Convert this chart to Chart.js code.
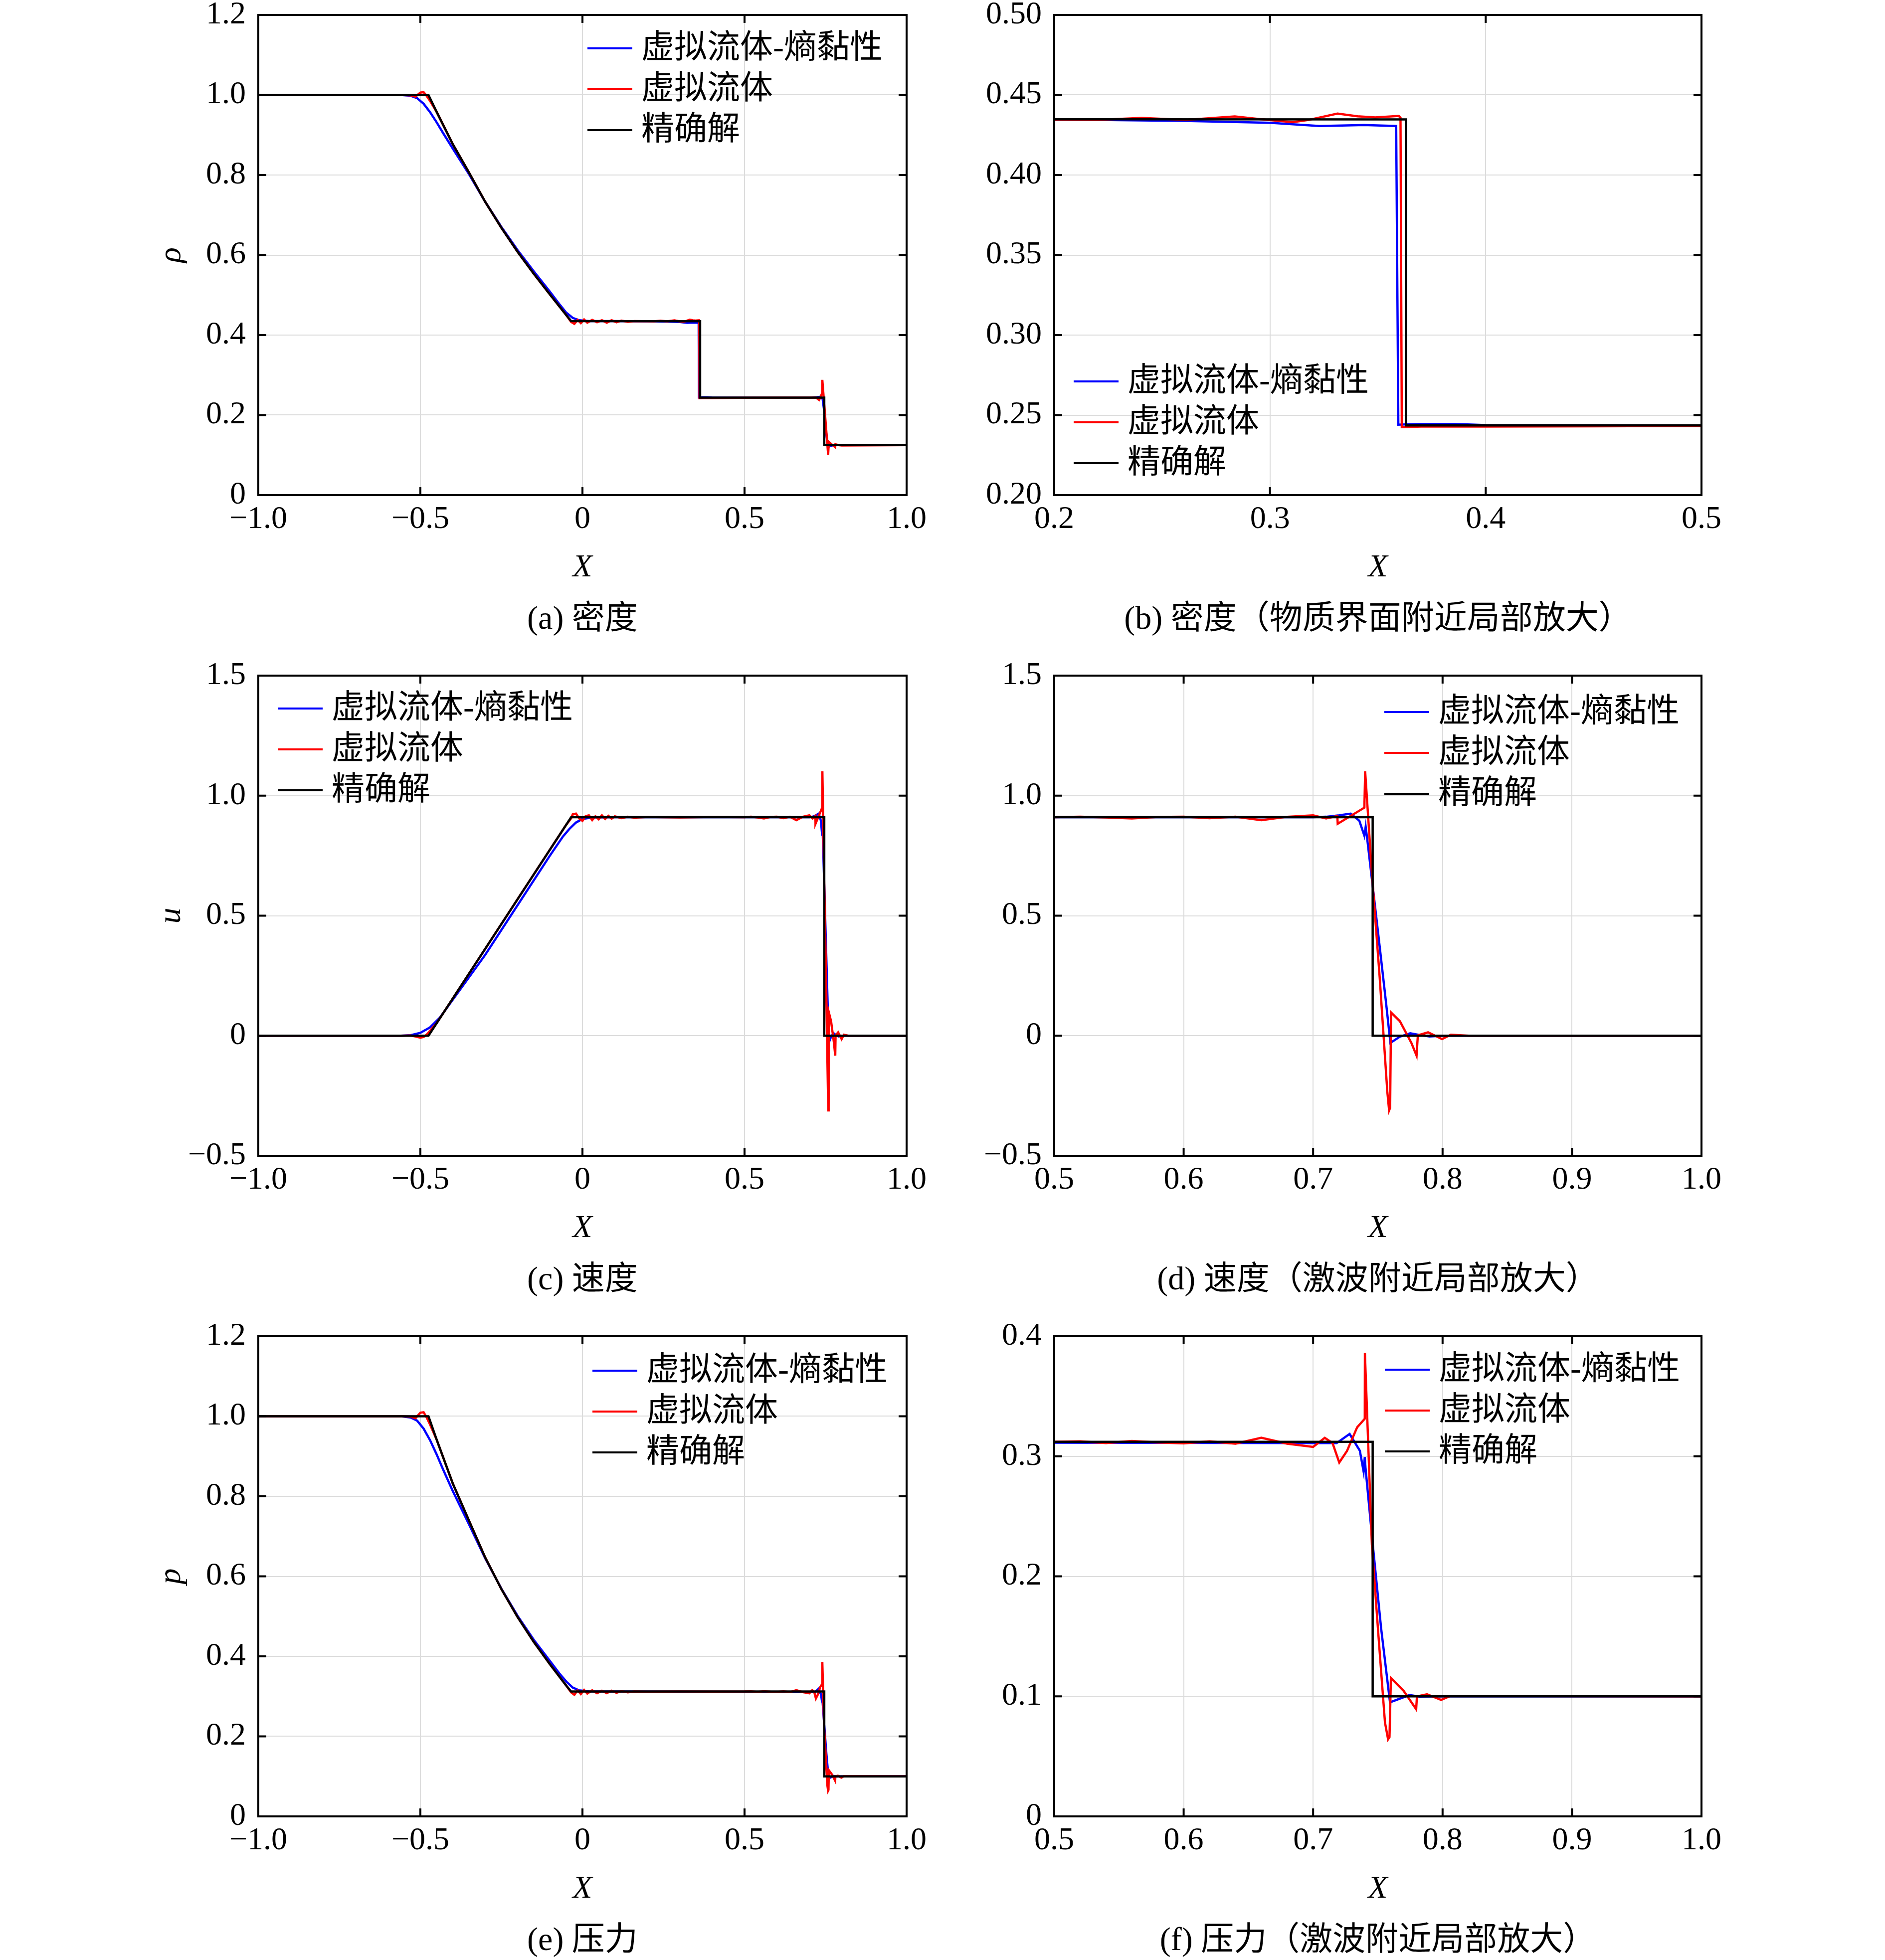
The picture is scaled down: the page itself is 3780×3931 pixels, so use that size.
<!DOCTYPE html>
<html>
<head>
<meta charset="utf-8">
<script src="https://cdn.jsdelivr.net/npm/chart.js@4.4.1/dist/chart.umd.min.js"></script>
<style>
  html, body { margin: 0; padding: 0; background: #fff; }
  body { width: 3780px; height: 3931px; position: relative; overflow: hidden; }
  canvas { position: absolute; }
  .cap { position: absolute; width: 1400px; text-align: center; color: #000; white-space: nowrap;
         font-family: "Liberation Serif", "Noto Sans CJK SC", serif; font-size: 66px; line-height: 66px; }
</style>
</head>
<body>
<script>
// ---- legend labels ----
const LABELS = ['虚拟流体-熵黏性', '虚拟流体', '精确解'];

// ---- density ----
const rhoExactX = [-1.0, -0.475, -0.45, -0.4, -0.35, -0.3, -0.25, -0.2, -0.15, -0.1, -0.05, -0.035, 0.363, 0.363, 0.746, 0.746, 1.0];
const rhoExact  = [1.0, 1.0, 0.958, 0.877, 0.806, 0.733, 0.668, 0.608, 0.553, 0.501, 0.450, 0.435, 0.4347, 0.2435, 0.2435, 0.125, 0.125];

const rhoBlueX = [-1.0, -0.56, -0.53, -0.51, -0.49, -0.47, -0.45, -0.43, -0.4, -0.35, -0.3, -0.25, -0.2, -0.15, -0.1, -0.07, -0.05, -0.03, -0.01, 0.02, 0.1, 0.22, 0.26, 0.3, 0.323, 0.3437, 0.3585, 0.3595, 0.37, 0.385, 0.4, 0.5, 0.6, 0.7, 0.725, 0.735, 0.741, 0.745, 0.75, 0.755, 0.76, 0.77, 0.78, 1.0];
const rhoBlue  = [1.0, 1.0, 0.998, 0.992, 0.978, 0.957, 0.932, 0.905, 0.866, 0.802, 0.733, 0.670, 0.612, 0.559, 0.508, 0.476, 0.456, 0.443, 0.437, 0.435, 0.4348, 0.4344, 0.4338, 0.4326, 0.4306, 0.4312, 0.4306, 0.244, 0.2445, 0.2445, 0.2438, 0.2435, 0.2435, 0.2435, 0.245, 0.246, 0.24, 0.215, 0.17, 0.135, 0.121, 0.124, 0.125, 0.125];

const rhoRedX = [-1.0, -0.56, -0.53, -0.515, -0.5, -0.49, -0.48, -0.47, -0.45, -0.4, -0.35, -0.3, -0.25, -0.2, -0.15, -0.1, -0.05, -0.035, -0.025, -0.015, -0.005, 0.005, 0.015, 0.03, 0.045, 0.06, 0.075, 0.09, 0.105, 0.12, 0.14, 0.16, 0.2, 0.22, 0.2405, 0.261, 0.2837, 0.296, 0.3106, 0.3178, 0.3313, 0.3406, 0.3488, 0.3597, 0.3605, 0.3611, 0.37, 0.4, 0.45, 0.5, 0.6, 0.7, 0.72, 0.73, 0.735, 0.7395, 0.74, 0.758, 0.7601, 0.77, 0.7796, 0.7805, 0.79, 0.80, 1.0];
const rhoRed  = [1.0, 1.0, 0.999, 0.996, 1.006, 1.007, 0.997, 0.985, 0.958, 0.877, 0.806, 0.733, 0.668, 0.608, 0.553, 0.501, 0.450, 0.433, 0.428, 0.438, 0.430, 0.439, 0.431, 0.438, 0.432, 0.437, 0.431, 0.437, 0.432, 0.436, 0.433, 0.435, 0.4346, 0.4344, 0.4357, 0.4344, 0.4366, 0.4348, 0.4330, 0.4344, 0.4384, 0.4367, 0.4360, 0.4369, 0.4358, 0.2425, 0.2428, 0.2428, 0.243, 0.2432, 0.2435, 0.2435, 0.244, 0.238, 0.246, 0.255, 0.288, 0.101, 0.133, 0.126, 0.12, 0.127, 0.125, 0.124, 0.125];

// ---- velocity ----
const uExactX = [-1.0, -0.475, -0.035, 0.746, 0.746, 1.0];
const uExact  = [0, 0, 0.91, 0.91, 0, 0];

const uBlueX = [-1.0, -0.56, -0.53, -0.5, -0.47, -0.44, -0.4, -0.3, -0.2, -0.1, -0.06, -0.04, -0.02, 0.0, 0.03, 0.1, 0.7, 0.71, 0.72, 0.729, 0.7357, 0.7396, 0.7406, 0.7418, 0.7455, 0.7514, 0.7563, 0.7597, 0.767, 0.775, 0.782, 0.79, 0.80, 1.0];
const uBlue  = [0, 0, 0.002, 0.012, 0.035, 0.075, 0.15, 0.337, 0.544, 0.751, 0.83, 0.862, 0.888, 0.903, 0.909, 0.91, 0.91, 0.912, 0.918, 0.925, 0.8955, 0.833, 0.870, 0.82, 0.648, 0.372, 0.139, -0.03, -0.004, 0.01, 0.003, -0.003, 0, 0];

const uRedX = [-1.0, -0.56, -0.53, -0.515, -0.5, -0.49, -0.48, -0.45, -0.4, -0.3, -0.2, -0.1, -0.05, -0.035, -0.03, -0.02, -0.01, 0.0, 0.01, 0.02, 0.03, 0.04, 0.05, 0.06, 0.07, 0.08, 0.09, 0.10, 0.12, 0.14, 0.16, 0.2, 0.3, 0.4, 0.5, 0.52, 0.54, 0.56, 0.58, 0.60, 0.62, 0.64, 0.66, 0.68, 0.70, 0.71, 0.7187, 0.7190, 0.7396, 0.7402, 0.7455, 0.7514, 0.7573, 0.7587, 0.7595, 0.7602, 0.7671, 0.7759, 0.7799, 0.7809, 0.7888, 0.7996, 0.8064, 0.8202, 1.0];
const uRed  = [0, 0, 0.001, -0.003, -0.008, -0.005, 0.005, 0.052, 0.155, 0.362, 0.569, 0.776, 0.879, 0.905, 0.922, 0.925, 0.905, 0.895, 0.915, 0.918, 0.898, 0.914, 0.902, 0.918, 0.903, 0.916, 0.904, 0.914, 0.906, 0.912, 0.908, 0.911, 0.909, 0.911, 0.910, 0.912, 0.909, 0.905, 0.911, 0.912, 0.906, 0.912, 0.898, 0.912, 0.918, 0.905, 0.915, 0.883, 0.950, 1.101, 0.669, 0.245, -0.232, -0.311, -0.30, 0.097, 0.060, -0.03, -0.083, 0.0016, 0.014, -0.014, 0.004, 0, 0];

// ---- pressure ----
const pExactX = [-1.0, -0.475, -0.45, -0.4, -0.35, -0.3, -0.25, -0.2, -0.15, -0.1, -0.05, -0.035, 0.746, 0.746, 1.0];
const pExact  = [1.0, 1.0, 0.942, 0.832, 0.739, 0.647, 0.568, 0.498, 0.436, 0.380, 0.327, 0.312, 0.312, 0.1, 0.1];

const pBlueX = [-1.0, -0.56, -0.53, -0.51, -0.49, -0.47, -0.45, -0.43, -0.4, -0.35, -0.3, -0.25, -0.2, -0.15, -0.1, -0.07, -0.05, -0.03, -0.01, 0.02, 0.1, 0.7, 0.7182, 0.7282, 0.7361, 0.739, 0.7399, 0.7405, 0.7465, 0.7525, 0.7594, 0.7605, 0.7745, 0.782, 0.80, 1.0];
const pBlue  = [1.0, 1.0, 0.997, 0.989, 0.969, 0.94, 0.905, 0.867, 0.813, 0.73, 0.645, 0.569, 0.501, 0.441, 0.388, 0.356, 0.337, 0.322, 0.315, 0.3125, 0.312, 0.311, 0.311, 0.3186, 0.3046, 0.2873, 0.2993, 0.29, 0.2219, 0.157, 0.0949, 0.0955, 0.1011, 0.0998, 0.1, 0.1];

const pRedX = [-1.0, -0.56, -0.53, -0.515, -0.5, -0.49, -0.48, -0.47, -0.45, -0.4, -0.35, -0.3, -0.25, -0.2, -0.15, -0.1, -0.05, -0.035, -0.025, -0.015, -0.005, 0.005, 0.015, 0.03, 0.045, 0.06, 0.075, 0.09, 0.105, 0.12, 0.14, 0.16, 0.2, 0.3, 0.4, 0.5, 0.52, 0.54, 0.56, 0.58, 0.60, 0.62, 0.64, 0.66, 0.68, 0.70, 0.709, 0.715, 0.7202, 0.7262, 0.734, 0.7399, 0.7400, 0.7454, 0.7505, 0.7555, 0.7579, 0.7590, 0.7601, 0.770, 0.7796, 0.7802, 0.788, 0.7989, 0.806, 1.0];
const pRed  = [1.0, 1.0, 0.999, 0.995, 1.009, 1.01, 0.996, 0.979, 0.942, 0.832, 0.739, 0.647, 0.568, 0.498, 0.436, 0.380, 0.327, 0.310, 0.304, 0.315, 0.306, 0.316, 0.307, 0.315, 0.308, 0.314, 0.308, 0.314, 0.309, 0.313, 0.310, 0.312, 0.3115, 0.312, 0.3118, 0.312, 0.3125, 0.311, 0.3128, 0.3115, 0.3108, 0.3125, 0.3105, 0.3154, 0.3105, 0.3078, 0.3154, 0.311, 0.2948, 0.3045, 0.3241, 0.3313, 0.3861, 0.2262, 0.1502, 0.0783, 0.0642, 0.066, 0.1153, 0.1045, 0.0893, 0.100, 0.1017, 0.0971, 0.1003, 0.1];

// ---- ticks ----
const xTicksFull = [-1, -0.5, 0, 0.5, 1];
const xLabelsFull = ['−1.0', '−0.5', '0', '0.5', '1.0'];
const xTicksB = [0.2, 0.3, 0.4, 0.5];
const xLabelsB = ['0.2', '0.3', '0.4', '0.5'];
const xTicksShock = [0.5, 0.6, 0.7, 0.8, 0.9, 1.0];
const xLabelsShock = ['0.5', '0.6', '0.7', '0.8', '0.9', '1.0'];

const yTicksRho = [0, 0.2, 0.4, 0.6, 0.8, 1.0, 1.2];
const yLabelsRho = ['0', '0.2', '0.4', '0.6', '0.8', '1.0', '1.2'];
const yTicksB = [0.2, 0.25, 0.3, 0.35, 0.4, 0.45, 0.5];
const yLabelsB = ['0.20', '0.25', '0.30', '0.35', '0.40', '0.45', '0.50'];
const yTicksU = [-0.5, 0, 0.5, 1.0, 1.5];
const yLabelsU = ['−0.5', '0', '0.5', '1.0', '1.5'];
const yTicksPf = [0, 0.1, 0.2, 0.3, 0.4];
const yLabelsPf = ['0', '0.1', '0.2', '0.3', '0.4'];

const CAPTIONS = ['(a) 密度', '(b) 密度（物质界面附近局部放大）', '(c) 速度', '(d) 速度（激波附近局部放大）', '(e) 压力', '(f) 压力（激波附近局部放大）'];

// ---- layout ----
const FAM = '"Liberation Serif", "Noto Sans CJK SC", serif';
const FS = 64, LEG_FS = 66;
const AX_W = 206, AX_H = 180, PAD_T = 40, PAD_R = 60, PLOT_H = 963;
const COLS = [{left: 518, w: 1300}, {left: 2114, w: 1298}];
const ROWS = [30, 1355, 2680];
const CAP_Y = [1239, 2564, 3889];

Chart.defaults.font.family = FAM;
Chart.defaults.color = '#000';

const framePlugin = {
  id: 'frame',
  afterDatasetsDraw(chart, args, opts) {
    const {ctx, chartArea: a} = chart;
    const xs = chart.scales.x, ys = chart.scales.y;
    ctx.save();
    ctx.strokeStyle = '#000';
    ctx.lineWidth = 4;
    ctx.beginPath();
    xs.ticks.forEach(t => {
      const px = xs.getPixelForValue(t.value);
      ctx.moveTo(px, a.bottom); ctx.lineTo(px, a.bottom - 16);
      ctx.moveTo(px, a.top); ctx.lineTo(px, a.top + 16);
    });
    ys.ticks.forEach(t => {
      const py = ys.getPixelForValue(t.value);
      ctx.moveTo(a.left, py); ctx.lineTo(a.left + 16, py);
      ctx.moveTo(a.right, py); ctx.lineTo(a.right - 16, py);
    });
    ctx.stroke();
    ctx.strokeRect(a.left, a.top, a.right - a.left, a.bottom - a.top);

    // legend
    ctx.font = LEG_FS + 'px ' + FAM;
    ctx.textBaseline = 'middle';
    ctx.textAlign = 'left';
    chart.data.datasets.forEach((ds, i) => {
      const lx = a.left + opts.lx, ly = a.top + opts.ly + i * 82;
      ctx.strokeStyle = ds.borderColor;
      ctx.lineWidth = 4;
      ctx.beginPath(); ctx.moveTo(lx, ly); ctx.lineTo(lx + 90, ly); ctx.stroke();
      ctx.fillStyle = '#000';
      ctx.fillText(ds.label, lx + 108, ly + 2);
    });
    ctx.restore();
  }
};

function pts(xs, ys) {
  return xs.map((x, i) => ({x: x, y: ys[i]}));
}

function chartConfig(cfg) {
  return {
    type: 'line',
    data: {
      datasets: [
        {label: LABELS[0], data: pts(cfg.bx, cfg.by), borderColor: '#0000ff', order: 2},
        {label: LABELS[1], data: pts(cfg.rx, cfg.ry), borderColor: '#ff0000', order: 1},
        {label: LABELS[2], data: pts(cfg.ex, cfg.ey), borderColor: '#000000', order: 0}
      ].map(d => Object.assign(d, {borderWidth: 4.5, pointRadius: 0, tension: 0, fill: false}))
    },
    options: {
      responsive: false,
      devicePixelRatio: 1,
      animation: false,
      layout: {padding: {top: PAD_T, right: PAD_R, left: 0, bottom: 0}},
      plugins: {
        legend: {display: false},
        tooltip: {enabled: false},
        frame: {lx: cfg.lx, ly: cfg.ly}
      },
      scales: {
        x: {
          type: 'linear', min: cfg.xt[0], max: cfg.xt[cfg.xt.length - 1],
          afterBuildTicks: s => { s.ticks = cfg.xt.map(v => ({value: v})); },
          afterFit: s => { s.height = AX_H; },
          ticks: {autoSkip: false, maxRotation: 0, padding: 17, font: {size: FS, lineHeight: 1},
                  callback: (v, i) => cfg.xl[i]},
          grid: {color: '#dcdcdc', lineWidth: 2, drawTicks: false},
          border: {display: false},
          title: {display: true, text: 'X', padding: {top: 0, bottom: 2},
                  font: {size: FS, style: 'italic', lineHeight: 1}}
        },
        y: {
          type: 'linear', min: cfg.yt[0], max: cfg.yt[cfg.yt.length - 1],
          afterBuildTicks: s => { s.ticks = cfg.yt.map(v => ({value: v})); },
          afterFit: s => { s.width = AX_W; },
          ticks: {autoSkip: false, padding: 25, font: {size: FS, lineHeight: 1},
                  callback: (v, i) => cfg.yl[i]},
          grid: {color: '#dcdcdc', lineWidth: 2, drawTicks: false},
          border: {display: false},
          title: {display: !!cfg.ytitle, text: cfg.ytitle || '', padding: {top: 0, bottom: 0},
                  font: {size: FS, style: 'italic', lineHeight: 1}}
        }
      }
    },
    plugins: [framePlugin]
  };
}

function makeChart(col, row, cfg) {
  const c = COLS[col];
  let w = AX_W + c.w + PAD_R, h = PAD_T + PLOT_H + AX_H;
  const cv = document.createElement('canvas');
  cv.width = w; cv.height = h;
  cv.style.width = w + 'px'; cv.style.height = h + 'px';
  document.body.appendChild(cv);

  let chart = new Chart(cv, chartConfig(cfg));
  // correct the canvas so the plot area gets exactly the wanted size
  let ca = chart.chartArea;
  const dw = c.w - (ca.right - ca.left), dh = PLOT_H - (ca.bottom - ca.top);
  if (Math.abs(dw) > 0.5 || Math.abs(dh) > 0.5) {
    chart.destroy();
    w = Math.round(w + dw); h = Math.round(h + dh);
    cv.width = w; cv.height = h;
    cv.style.width = w + 'px'; cv.style.height = h + 'px';
    chart = new Chart(cv, chartConfig(cfg));
    ca = chart.chartArea;
  }
  cv.style.left = (c.left - ca.left) + 'px';
  cv.style.top = (ROWS[row] - ca.top) + 'px';

  const cap = document.createElement('div');
  cap.className = 'cap';
  cap.textContent = cfg.caption;
  cap.style.left = (c.left + c.w / 2 - 700) + 'px';
  cap.style.top = (CAP_Y[row] - 33) + 'px';
  document.body.appendChild(cap);
}

makeChart(0, 0, {caption: CAPTIONS[0], ytitle: 'ρ', xt: xTicksFull, xl: xLabelsFull, yt: yTicksRho, yl: yLabelsRho,
  bx: rhoBlueX, by: rhoBlue, rx: rhoRedX, ry: rhoRed, ex: rhoExactX, ey: rhoExact, lx: 660, ly: 67});
makeChart(1, 0, {caption: CAPTIONS[1], xt: xTicksB, xl: xLabelsB, yt: yTicksB, yl: yLabelsB,
  bx: rhoBlueX, by: rhoBlue, rx: rhoRedX, ry: rhoRed, ex: rhoExactX, ey: rhoExact, lx: 39, ly: 735});
makeChart(0, 1, {caption: CAPTIONS[2], ytitle: 'u', xt: xTicksFull, xl: xLabelsFull, yt: yTicksU, yl: yLabelsU,
  bx: uBlueX, by: uBlue, rx: uRedX, ry: uRed, ex: uExactX, ey: uExact, lx: 39, ly: 66});
makeChart(1, 1, {caption: CAPTIONS[3], xt: xTicksShock, xl: xLabelsShock, yt: yTicksU, yl: yLabelsU,
  bx: uBlueX, by: uBlue, rx: uRedX, ry: uRed, ex: uExactX, ey: uExact, lx: 662, ly: 73});
makeChart(0, 2, {caption: CAPTIONS[4], ytitle: 'p', xt: xTicksFull, xl: xLabelsFull, yt: yTicksRho, yl: yLabelsRho,
  bx: pBlueX, by: pBlue, rx: pRedX, ry: pRed, ex: pExactX, ey: pExact, lx: 670, ly: 69});
makeChart(1, 2, {caption: CAPTIONS[5], xt: xTicksShock, xl: xLabelsShock, yt: yTicksPf, yl: yLabelsPf,
  bx: pBlueX, by: pBlue, rx: pRedX, ry: pRed, ex: pExactX, ey: pExact, lx: 663, ly: 67});
</script>
</body>
</html>
